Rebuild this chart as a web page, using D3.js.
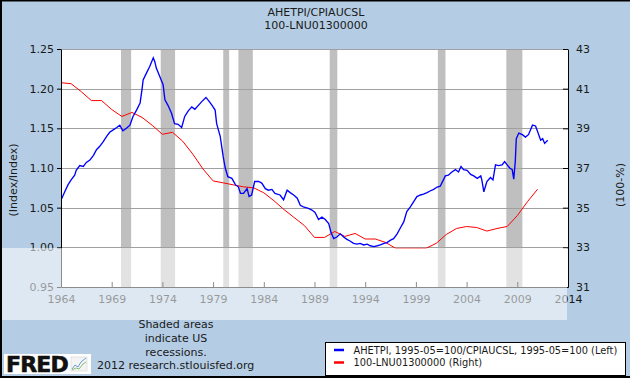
<!DOCTYPE html>
<html>
<head>
<meta charset="utf-8">
<script src="https://cdn.jsdelivr.net/npm/d3@7"></script>
<style>
  html, body { margin: 0; padding: 0; background: #b4cde4; }
  svg text { font-family: "DejaVu Sans", Verdana, sans-serif; fill: #1a1a1a; }
</style>
</head>
<body>
<div id="chart"></div>
<script>
// wage ratio (left axis), [decimal year, value]
var wageRatio = [
  [1964.05,1.061],[1964.37,1.070],[1964.7,1.079],[1965.0,1.085],[1965.35,1.091],[1965.5,1.097],
  [1965.85,1.103],[1966.2,1.102],[1966.5,1.107],[1966.85,1.110],[1967.2,1.116],[1967.5,1.123],
  [1967.8,1.127],[1968.15,1.133],[1968.5,1.140],[1968.8,1.145],[1969.15,1.148],[1969.5,1.151],
  [1969.8,1.154],[1970.1,1.147],[1970.45,1.150],[1970.8,1.154],[1971.1,1.165],[1971.45,1.173],
  [1971.8,1.182],[1972.0,1.200],[1972.1,1.211],[1972.4,1.219],[1972.75,1.228],[1973.1,1.239],
  [1973.25,1.234],[1973.4,1.226],[1973.75,1.215],[1974.07,1.205],[1974.25,1.186],[1974.55,1.179],
  [1974.9,1.169],[1975.2,1.156],[1975.55,1.155],[1975.9,1.151],[1976.2,1.165],[1976.55,1.172],
  [1976.9,1.177],[1977.2,1.174],[1977.55,1.179],[1977.9,1.184],[1978.3,1.189],[1978.55,1.185],
  [1978.9,1.179],[1979.2,1.173],[1979.35,1.156],[1979.7,1.140],[1979.85,1.127],[1980.0,1.114],
  [1980.2,1.100],[1980.45,1.089],[1980.85,1.087],[1981.2,1.079],[1981.5,1.076],[1981.7,1.068],
  [1982.0,1.068],[1982.35,1.074],[1982.55,1.064],[1982.8,1.066],[1983.1,1.083],[1983.5,1.083],
  [1983.8,1.081],[1984.15,1.074],[1984.45,1.072],[1984.8,1.073],[1985.1,1.068],[1985.6,1.066],
  [1985.95,1.060],[1986.3,1.072],[1986.6,1.069],[1986.95,1.066],[1987.3,1.062],[1987.6,1.053],
  [1987.9,1.051],[1988.4,1.049],[1988.75,1.047],[1989.05,1.044],[1989.4,1.035],[1989.73,1.038],
  [1990.06,1.035],[1990.4,1.030],[1990.65,1.018],[1990.9,1.011],[1991.2,1.013],[1991.55,1.017],
  [1991.87,1.013],[1992.2,1.010],[1992.5,1.008],[1992.85,1.005],[1993.2,1.004],[1993.5,1.005],
  [1993.85,1.003],[1994.2,1.004],[1994.5,1.002],[1994.85,1.001],[1995.2,1.002],[1995.5,1.003],
  [1995.85,1.005],[1996.15,1.006],[1996.5,1.009],[1996.8,1.011],[1997.15,1.017],[1997.45,1.024],
  [1997.8,1.032],[1998.1,1.045],[1998.45,1.051],[1998.8,1.058],[1999.1,1.064],[1999.45,1.066],
  [1999.75,1.067],[2000.1,1.069],[2000.4,1.071],[2000.75,1.073],[2001.1,1.076],[2001.4,1.077],
  [2001.75,1.086],[2001.9,1.090],[2002.2,1.091],[2002.55,1.095],[2002.9,1.098],[2003.2,1.095],
  [2003.45,1.102],[2003.7,1.098],[2004.05,1.097],[2004.4,1.092],[2004.7,1.090],[2005.05,1.087],
  [2005.4,1.090],[2005.5,1.085],[2005.7,1.070],[2006.0,1.083],[2006.35,1.088],[2006.6,1.085],
  [2006.85,1.104],[2007.15,1.103],[2007.5,1.104],[2007.75,1.108],[2008.0,1.104],[2008.25,1.100],
  [2008.5,1.098],[2008.65,1.086],[2008.8,1.108],[2008.9,1.137],[2009.15,1.144],[2009.5,1.142],
  [2009.8,1.139],[2010.1,1.142],[2010.5,1.154],[2010.8,1.153],[2011.0,1.146],[2011.3,1.135],
  [2011.5,1.137],[2011.7,1.131],[2012.0,1.135]
];

// 100 - participation rate (right axis), annual
var notInLabor = [
  [1964,41.3],[1965,41.25],[1966,40.85],[1967,40.4],[1968,40.4],[1969,39.95],[1970,39.6],
  [1971,39.8],[1972,39.55],[1973,39.15],[1974,38.7],[1975,38.8],[1976,38.35],[1977,37.7],
  [1978,36.95],[1979,36.35],[1980,36.25],[1981,36.15],[1982,36.05],[1983,36.0],[1984,35.75],
  [1985,35.35],[1986,34.9],[1987,34.5],[1988,34.1],[1989,33.5],[1990,33.5],[1991,33.8],
  [1992,33.55],[1993,33.7],[1994,33.42],[1995,33.42],[1996,33.25],[1997,32.95],[1998,32.95],
  [1999,32.95],[2000,32.95],[2001,33.2],[2002,33.65],[2003,33.95],[2004,34.05],[2005,34.0],
  [2006,33.82],[2007,33.95],[2008,34.05],[2009,34.6],[2010,35.3],[2011,35.93]
];

var recessions = [
  [1969.917,1970.917],[1973.833,1975.25],[1980.0,1980.583],[1981.5,1982.917],
  [1990.5,1991.25],[2001.167,2001.917],[2007.917,2009.5]
];

var leftTicks = [0.95,1.00,1.05,1.10,1.15,1.20,1.25];
var rightTicks = [31,33,35,37,39,41,43];
var yearTicks = [1964,1969,1974,1979,1984,1989,1994,1999,2004,2009,2014];

var width = 630, height = 378;
var pLeft = 61, pRight = 568, pTop = 49, pBottom = 287;

var svg = d3.select("#chart").append("svg")
  .attr("width", width).attr("height", height);

svg.append("rect").attr("width", width).attr("height", height).attr("fill", "#b4cde4");

var x = d3.scaleLinear().domain([1964, 2014]).range([pLeft, pRight]);
var yL = d3.scaleLinear().domain([0.95, 1.25]).range([pBottom, pTop]);
var yR = d3.scaleLinear().domain([31, 43]).range([pBottom, pTop]);

// plot area
svg.append("rect").attr("x", pLeft).attr("y", pTop)
  .attr("width", pRight - pLeft).attr("height", pBottom - pTop).attr("fill", "#fff");

svg.append("g").selectAll("rect").data(recessions).enter().append("rect")
  .attr("x", function(d) { return x(d[0]); })
  .attr("y", pTop)
  .attr("width", function(d) { return x(d[1]) - x(d[0]); })
  .attr("height", pBottom - pTop)
  .attr("fill", "#bfbfbf");

// gridlines
svg.append("g").selectAll("line").data(leftTicks.slice(1)).enter().append("line")
  .attr("x1", pLeft).attr("x2", pRight)
  .attr("y1", function(d) { return Math.round(yL(d)) + 0.5; })
  .attr("y2", function(d) { return Math.round(yL(d)) + 0.5; })
  .attr("stroke", "#a0a0a0").attr("stroke-width", 1.2);

var redLine = d3.line()
  .x(function(d) { return x(d[0]); })
  .y(function(d) { return yR(d[1]); });
svg.append("path").datum(notInLabor)
  .attr("d", redLine).attr("fill", "none")
  .attr("stroke", "#ff0000").attr("stroke-width", 1);

var blueLine = d3.line()
  .x(function(d) { return x(d[0]); })
  .y(function(d) { return yL(d[1]); });
svg.append("path").datum(wageRatio)
  .attr("d", blueLine).attr("fill", "none")
  .attr("stroke", "#0000ff").attr("stroke-width", 1.35);

// axes
var axL = svg.append("g").attr("transform", "translate(" + pLeft + ",0)")
  .call(d3.axisLeft(yL).tickValues(leftTicks).tickFormat(d3.format(".2f"))
    .tickSize(4).tickSizeOuter(0).tickPadding(3));
var axR = svg.append("g").attr("transform", "translate(" + pRight + ",0)")
  .call(d3.axisRight(yR).tickValues(rightTicks).tickFormat(d3.format("d"))
    .tickSize(-5).tickSizeOuter(0).tickPadding(8));
var axB = svg.append("g").attr("transform", "translate(0," + pBottom + ")")
  .call(d3.axisBottom(x).tickValues(yearTicks).tickFormat(d3.format("d"))
    .tickSize(-5).tickSizeOuter(0).tickPadding(8));

[axL, axR, axB].forEach(function(a) {
  a.selectAll("text").attr("font-family", "DejaVu Sans, Verdana, sans-serif")
    .attr("font-size", 11).attr("fill", "#1a1a1a");
  a.selectAll("line").attr("stroke", "#000");
  a.select(".domain").attr("stroke", "#000");
});

// axis titles
svg.append("text").attr("transform", "translate(17,180) rotate(-90)")
  .attr("text-anchor", "middle").attr("font-size", 11).text("(Index/Index)");
svg.append("text").attr("transform", "translate(624,185) rotate(-90)")
  .attr("text-anchor", "middle").attr("font-size", 11).text("(100-%)");

// chart title
svg.append("text").attr("x", 316).attr("y", 15.5).attr("text-anchor", "middle")
  .attr("font-size", 11).text("AHETPI/CPIAUCSL");
svg.append("text").attr("x", 316).attr("y", 29).attr("text-anchor", "middle")
  .attr("font-size", 11).text("100-LNU01300000");

// washed band across the lower part of the image
svg.append("rect").attr("x", 0).attr("y", 248).attr("width", 567).attr("height", 72)
  .attr("fill", "#fff").attr("opacity", 0.55);

// recession note
var note = ["Shaded areas", "indicate US", "recessions."];
svg.append("g").selectAll("text").data(note).enter().append("text")
  .attr("x", 176).attr("y", function(d, i) { return 327.5 + i * 14; })
  .attr("text-anchor", "middle").attr("font-size", 11).text(function(d) { return d; });
svg.append("text").attr("x", 97).attr("y", 369).attr("font-size", 11)
  .text("2012 research.stlouisfed.org");

// FRED logo
svg.append("rect").attr("x", 4).attr("y", 354).attr("width", 87).attr("height", 20).attr("fill", "#fff");
svg.append("text").attr("x", 6).attr("y", 372).attr("font-family", "Liberation Sans, Arial, sans-serif")
  .attr("font-weight", "bold").attr("font-size", 22).attr("letter-spacing", -0.8)
  .style("fill", "#111").style("stroke", "#111").style("stroke-width", 0.6).text("FRED");
svg.append("rect").attr("x", 71).attr("y", 357).attr("width", 16).attr("height", 14)
  .attr("fill", "#f4f4f4").attr("stroke", "#ccc").attr("stroke-width", 0.5);
svg.append("path").attr("d", "M72,369 L75,365 L78,367 L81,362 L86,358")
  .attr("fill", "none").attr("stroke", "#6a9ed8").attr("stroke-width", 1);
svg.append("path").attr("d", "M72,370 L76,368 L79,369 L83,364 L86,362")
  .attr("fill", "none").attr("stroke", "#8bbf6a").attr("stroke-width", 1);

// legend
var legendItems = [
  {label: "AHETPI, 1995-05=100/CPIAUCSL, 1995-05=100 (Left)", color: "#0000ff"},
  {label: "100-LNU01300000 (Right)", color: "#ff0000"}
];
svg.append("rect").attr("x", 325.5).attr("y", 342.5).attr("width", 300).attr("height", 33)
  .attr("fill", "#fff").attr("stroke", "#000").attr("stroke-width", 1);
var lg = svg.append("g").selectAll("g").data(legendItems).enter().append("g")
  .attr("transform", function(d, i) { return "translate(334," + (350 + i * 12.5) + ")"; });
lg.append("line").attr("x1", 0).attr("x2", 10).attr("stroke", function(d) { return d.color; })
  .attr("stroke-width", 2.5);
lg.append("text").attr("x", 19.5).attr("y", 3.5).attr("font-size", 9.8)
  .text(function(d) { return d.label; });

// frame
svg.append("path").attr("d", "M1,378 L1,0.5 L630,0.5").attr("fill", "none")
  .attr("stroke", "#000").attr("stroke-width", 2);
svg.append("line").attr("x1", 0).attr("x2", 630).attr("y1", 377).attr("y2", 377)
  .attr("stroke", "#000").attr("stroke-width", 2);
</script>
</body>
</html>
